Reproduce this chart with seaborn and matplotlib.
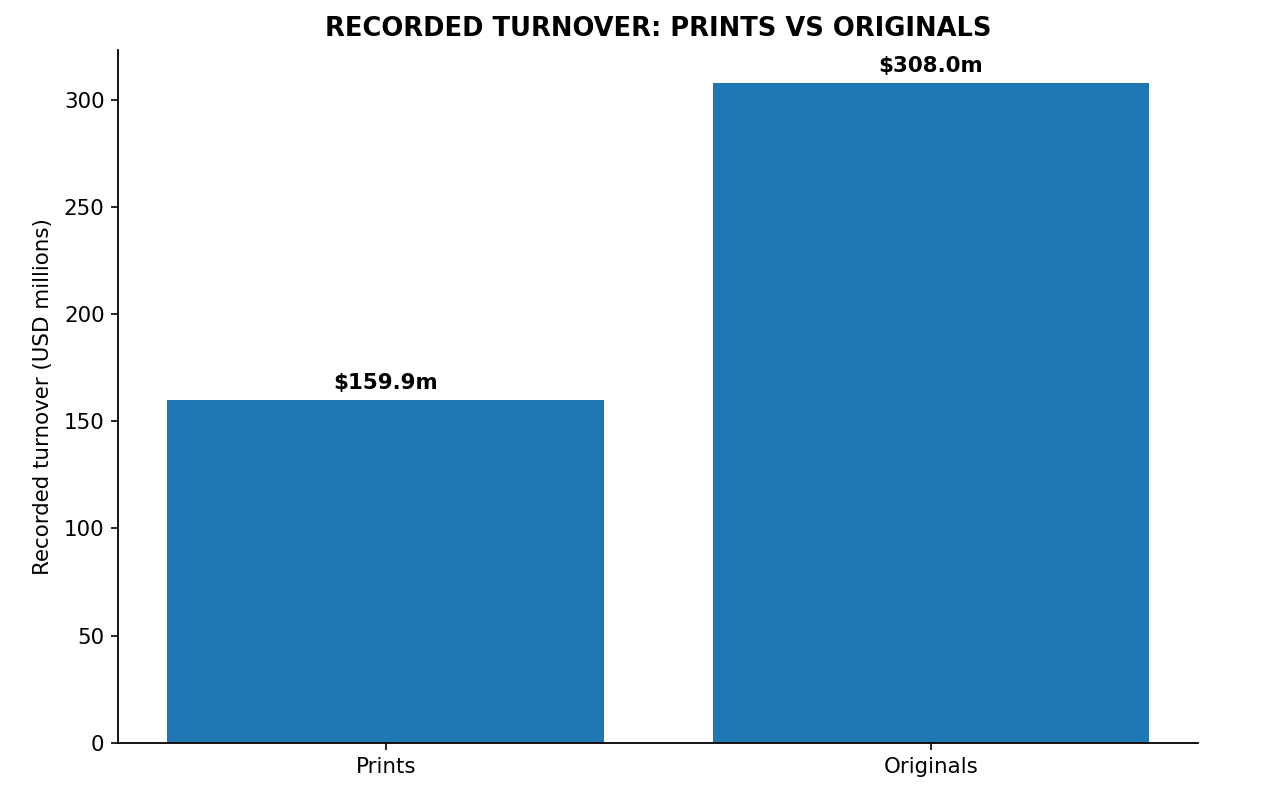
import matplotlib
matplotlib.use('Agg')
import matplotlib.pyplot as plt
import seaborn as sns
import pandas as pd

categories = ['Prints', 'Originals']
turnover = [159.9, 308.0]

df = pd.DataFrame({'category': categories, 'turnover': turnover})

sns.set_style('ticks', {'axes.edgecolor': 'black', 'text.color': 'black',
                        'xtick.color': 'black', 'ytick.color': 'black',
                        'axes.labelcolor': 'black'})
plt.rcParams['font.family'] = ['DejaVu Sans']

fig, ax = plt.subplots(figsize=(12.87, 8.02), dpi=100)
sns.barplot(data=df, x='category', y='turnover', color='#1f77b4', saturation=1,
            width=0.8, linewidth=0, ax=ax)

for i, v in enumerate(turnover):
    ax.annotate('$%.1fm' % v, (i, v), xytext=(0, 5), textcoords='offset points',
                ha='center', va='bottom', fontsize=15.4, fontweight='bold')

ax.set_xlim(-0.49, 1.49)
ax.set_ylim(0, max(turnover) * 1.05)
ax.set_xlabel('')
ax.set_ylabel('Recorded turnover (USD millions)', fontsize=15.4, labelpad=8)
ax.set_title('RECORDED TURNOVER: PRINTS VS ORIGINALS', fontsize=18.5,
             fontweight='bold', pad=10)
ax.tick_params(labelsize=15.4, length=5, width=1.2, pad=5)
for s in ax.spines.values():
    s.set_linewidth(1.3)
sns.despine(ax=ax)

plt.subplots_adjust(left=0.092, right=0.931, top=0.938, bottom=0.074)
fig.savefig('out.png', dpi=100)
